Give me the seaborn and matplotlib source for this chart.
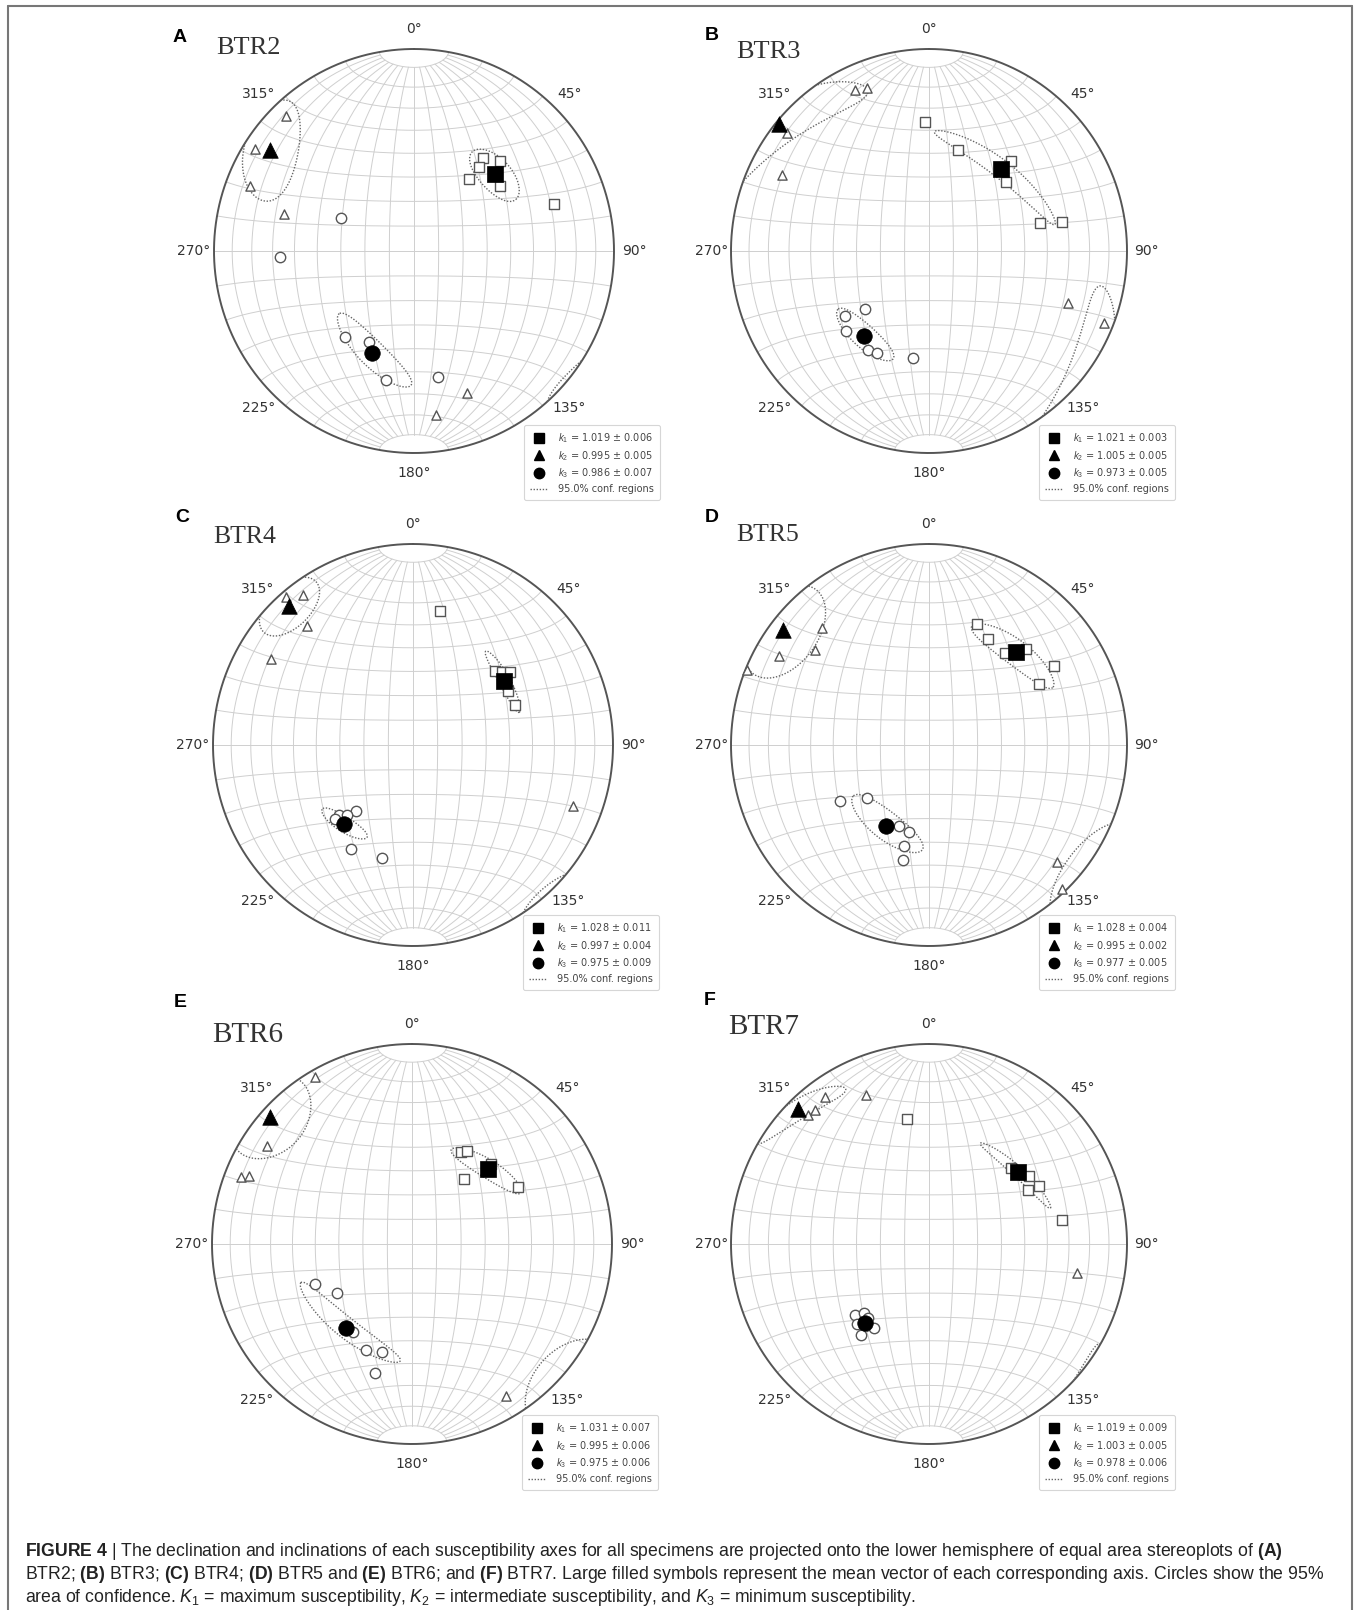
import numpy as np
import matplotlib.pyplot as plt
import seaborn as sns
from matplotlib.lines import Line2D

# declination / inclination (deg) of the specimen axes, read off the stereoplots
# A) BTR2
A_k1_dec = [36.9, 44.1, 38.1, 37.5, 53.2, 71.8]
A_k1_inc = [41.7, 37.9, 46.0, 52.8, 45.4, 27.1]
A_k2_dec = [316.1, 302.4, 291.4, 285.7, 159.2, 172.3]
A_k2_inc = [8.3, 6.6, 13.1, 33.0, 25.8, 19.3]
A_k3_dec = [294.0, 267.6, 218.8, 206.5, 192.6, 169.1]
A_k3_inc = [57.0, 33.6, 44.3, 48.4, 35.1, 36.6]
A_mean_dec = [47.0, 304.8, 202.6]
A_mean_inc = [43.7, 13.5, 44.4]
A_ell_a = [12, 19, 19.5]
A_ell_b = [7, 12, 5.5]
A_ell_beta = [0, 48, -26]
A_k = [1.019, 0.995, 0.986]
A_kerr = [0.006, 0.005, 0.007]

# B) BTR3
B_k1_dec = [358.4, 16.3, 42.9, 48.5, 76.1, 77.8]
B_k1_inc = [36.3, 46.8, 39.2, 47.2, 41.9, 31.9]
B_k2_dec = [334.9, 338.8, 309.2, 296.9, 110.3, 112.0]
B_k2_inc = [12.9, 14.5, 8.5, 17.9, 26.3, 5.1]
B_k3_dec = [228.2, 232.5, 226.6, 212.2, 207.2, 188.4]
B_k3_inc = [54.4, 45.8, 42.1, 41.7, 42.5, 45.3]
B_mean_dec = [42.1, 309.8, 218.0]
B_mean_inc = [44.6, 1.8, 45.6]
B_ell_a = [29, 32, 14]
B_ell_b = [4, 10, 5]
B_ell_beta = [6, -30, -4]
B_k = [1.021, 1.005, 0.973]
B_kerr = [0.003, 0.005, 0.005]

# C) BTR4
C_k1_dec = [11.4, 48.0, 50.8, 53.0, 60.3, 68.6]
C_k1_inc = [32.4, 44.1, 41.9, 39.4, 44.6, 44.3]
C_k2_dec = [319.2, 323.7, 318.3, 301.0, 110.9]
C_k2_inc = [3.4, 8.2, 21.6, 18.2, 15.4]
C_k3_dec = [220.8, 226.8, 226.4, 223.6, 210.7, 195.6]
C_k3_inc = [54.3, 47.8, 45.5, 50.3, 39.5, 41.1]
C_mean_dec = [55.0, 318.1, 221.2]
C_mean_inc = [43.5, 7.6, 46.5]
C_ell_a = [13, 11, 10]
C_ell_b = [2.5, 11.5, 3.3]
C_ell_beta = [-7.5, -21, 11]
C_k = [1.028, 0.997, 0.975]
C_kerr = [0.011, 0.004, 0.009]

# D) BTR5
D_k1_dec = [22.1, 29.7, 40.2, 45.7, 58.2, 61.3]
D_k1_inc = [35.4, 39.4, 40.1, 32.3, 26.4, 37.0]
D_k2_dec = [316.9, 309.4, 300.2, 292.1, 132.2, 136.8]
D_k2_inc = [21.7, 26.5, 13.3, 1.2, 14.1, 1.9]
D_k3_dec = [238.1, 229.7, 200.7, 193.2, 194.2, 192.9]
D_k3_inc = [46.1, 56.5, 54.4, 53.2, 47.1, 41.0]
D_mean_dec = [43.5, 307.7, 208.5]
D_mean_inc = [36.6, 7.4, 52.4]
D_ell_a = [18.7, 18, 17]
D_ell_b = [5.7, 16, 6]
D_ell_beta = [9, 90, -10]
D_k = [1.028, 0.995, 0.977]
D_kerr = [0.004, 0.002, 0.005]

# E) BTR6
E_k1_dec = [28.0, 30.7, 38.6, 61.9, 44.9]
E_k1_inc = [46.8, 44.8, 55.6, 39.6, 43.2]
E_k2_dec = [330.0, 304.1, 291.4, 292.8, 148.2]
E_k2_inc = [3.9, 13.3, 9.2, 12.7, 11.5]
E_k3_dec = [247.8, 237.0, 214.1, 203.3, 195.3, 196.1]
E_k3_inc = [46.4, 52.9, 46.0, 41.7, 43.3, 33.2]
E_mean_dec = [45.2, 311.9, 218.3]
E_mean_inc = [45.6, 5.2, 45.7]
E_ell_a = [15.6, 18.5, 24]
E_ell_b = [4, 14, 4.5]
E_ell_beta = [16, 90, 0]
E_k = [1.031, 0.995, 0.975]
E_kerr = [0.007, 0.006, 0.006]

# F) BTR7
F_k1_dec = [349.8, 47.4, 61.5, 62.2, 56.1, 80.0]
F_k1_inc = [36.6, 43.2, 42.5, 37.4, 39.3, 32.4]
F_k2_dec = [324.4, 336.9, 319.2, 316.5, 101.1]
F_k2_inc = [10.6, 20.2, 12.6, 12.0, 24.6]
F_k3_dec = [226.4, 223.6, 213.8, 217.0, 219.7, 222.2]
F_k3_inc = [47.0, 50.6, 48.3, 42.7, 50.4, 45.3]
F_mean_dec = [51.6, 315.6, 219.4]
F_mean_inc = [41.9, 6.4, 47.7]
F_ell_a = [18, 17, 4]
F_ell_b = [2.3, 5, 3]
F_ell_beta = [11, -25, 0]
F_k = [1.019, 1.003, 0.978]
F_kerr = [0.009, 0.005, 0.006]

site_names = ['BTR2', 'BTR3', 'BTR4', 'BTR5', 'BTR6', 'BTR7']
panel_letters = ['A', 'B', 'C', 'D', 'E', 'F']
az_ticks = [0, 45, 90, 135, 180, 225, 270, 315]

caption = [
    r"$\mathbf{FIGURE\ 4}$ | The declination and inclinations of each susceptibility axes for all specimens are projected onto the lower hemisphere of equal area stereoplots of $\mathbf{(A)}$",
    r"BTR2; $\mathbf{(B)}$ BTR3; $\mathbf{(C)}$ BTR4; $\mathbf{(D)}$ BTR5 and $\mathbf{(E)}$ BTR6; and $\mathbf{(F)}$ BTR7. Large filled symbols represent the mean vector of each corresponding axis. Circles show the 95%",
    r"area of confidence. $K_1$ = maximum susceptibility, $K_2$ = intermediate susceptibility, and $K_3$ = minimum susceptibility.",
]

sns.set_style('white')
plt.rcParams['font.family'] = ['DejaVu Sans']
plt.rcParams['mathtext.fontset'] = 'custom'
plt.rcParams['mathtext.rm'] = 'Liberation Sans'
plt.rcParams['mathtext.it'] = 'Liberation Sans:italic'
plt.rcParams['mathtext.bf'] = 'Liberation Sans:bold'

W, H = 1354, 1610
fig = plt.figure(figsize=(W / 100, H / 100), dpi=100)

# layout in pixels (centre of each net, radii), titles, letters, legend offsets
centres = [(414, 251), (929, 251), (413, 745), (929, 745), (412, 1244), (929, 1244)]
radii = [(200, 202), (198, 202), (200, 201), (198, 201), (200, 200), (198, 200)]
title_pos = [(216, 48), (736, 52), (213, 537), (736, 535), (212, 1035), (728, 1027)]
title_size = [19, 19, 18.5, 18.5, 21, 21]
letter_pos = [(180, 37), (712, 35), (182, 518), (712, 518), (180, 1002), (710, 1000)]
legend_dy = [249, 249, 245, 245, 246, 246]

grid_col = '#cfcfcf'
ell_col = '#666666'
open_edge = '#555555'


def proj(dec, inc):
    # lower hemisphere equal-area (Schmidt) projection
    d = np.radians(np.asarray(dec, float))
    i = np.radians(np.asarray(inc, float))
    x = np.cos(i) * np.sin(d)
    y = np.cos(i) * np.cos(d)
    z = np.sin(i)
    f = 1 / np.sqrt(1 + z)
    return x * f, y * f


def ellipse_segments(dec, inc, a, b, beta, n=721):
    d, i, bt = np.radians([dec, inc, beta])
    m = np.array([np.cos(i) * np.sin(d), np.cos(i) * np.cos(d), np.sin(i)])
    e1 = np.array([np.cos(d), -np.sin(d), 0.0])
    e2 = np.array([np.sin(i) * np.sin(d), np.sin(i) * np.cos(d), -np.cos(i)])
    u = np.cos(bt) * e1 + np.sin(bt) * e2
    w = -np.sin(bt) * e1 + np.cos(bt) * e2
    t = np.linspace(0, 2 * np.pi, n)
    v = (m[:, None] + np.tan(np.radians(a)) * np.cos(t) * u[:, None]
         + np.tan(np.radians(b)) * np.sin(t) * w[:, None])
    v /= np.linalg.norm(v, axis=0)
    up = v[2] < 0
    v[:, up] *= -1  # upper hemisphere -> antipode
    f = 1 / np.sqrt(1 + v[2])
    X, Y = v[0] * f, v[1] * f
    change = np.nonzero(up[1:] != up[:-1])[0] + 1
    if len(change) == 0:
        return [(X, Y)]
    k = change[0]
    X = np.roll(X[:-1], -k)
    Y = np.roll(Y[:-1], -k)
    up2 = np.roll(up[:-1], -k)
    cuts = np.nonzero(up2[1:] != up2[:-1])[0] + 1
    return list(zip(np.split(X, cuts), np.split(Y, cuts)))


def draw_net(ax):
    lat = np.radians(np.linspace(-80, 80, 161))
    for lam in range(-80, 81, 10):
        l = np.radians(lam)
        E = np.cos(lat) * np.sin(l)
        N = np.sin(lat)
        D = np.cos(lat) * np.cos(l)
        ax.plot(E / np.sqrt(1 + D), N / np.sqrt(1 + D), color=grid_col, lw=0.7, zorder=1)
    lon = np.radians(np.linspace(-90, 90, 181))
    for ph in range(-80, 81, 10):
        p = np.radians(ph)
        E = np.cos(p) * np.sin(lon)
        N = np.sin(p) * np.ones_like(lon)
        D = np.cos(p) * np.cos(lon)
        ax.plot(E / np.sqrt(1 + D), N / np.sqrt(1 + D), color=grid_col, lw=0.7, zorder=1)
    t = np.linspace(0, 2 * np.pi, 400)
    ax.plot(np.sin(t), np.cos(t), color='#555555', lw=1.4, zorder=2)


panels = [
    (A_k1_dec, A_k1_inc, A_k2_dec, A_k2_inc, A_k3_dec, A_k3_inc, A_mean_dec, A_mean_inc,
     A_ell_a, A_ell_b, A_ell_beta, A_k, A_kerr),
    (B_k1_dec, B_k1_inc, B_k2_dec, B_k2_inc, B_k3_dec, B_k3_inc, B_mean_dec, B_mean_inc,
     B_ell_a, B_ell_b, B_ell_beta, B_k, B_kerr),
    (C_k1_dec, C_k1_inc, C_k2_dec, C_k2_inc, C_k3_dec, C_k3_inc, C_mean_dec, C_mean_inc,
     C_ell_a, C_ell_b, C_ell_beta, C_k, C_kerr),
    (D_k1_dec, D_k1_inc, D_k2_dec, D_k2_inc, D_k3_dec, D_k3_inc, D_mean_dec, D_mean_inc,
     D_ell_a, D_ell_b, D_ell_beta, D_k, D_kerr),
    (E_k1_dec, E_k1_inc, E_k2_dec, E_k2_inc, E_k3_dec, E_k3_inc, E_mean_dec, E_mean_inc,
     E_ell_a, E_ell_b, E_ell_beta, E_k, E_kerr),
    (F_k1_dec, F_k1_inc, F_k2_dec, F_k2_inc, F_k3_dec, F_k3_inc, F_mean_dec, F_mean_inc,
     F_ell_a, F_ell_b, F_ell_beta, F_k, F_kerr),
]

markers = ['s', '^', 'o']
open_size = [48, 44, 56]
mean_size = [125, 125, 125]
pad = 1.06

for n, p in enumerate(panels):
    (k1d, k1i, k2d, k2i, k3d, k3i, md, mi, ea, eb, ebeta, kv, ke) = p
    cx, cy = centres[n]
    rx, ry = radii[n]
    ax = fig.add_axes([(cx - pad * rx) / W, 1 - (cy + pad * ry) / H,
                       2 * pad * rx / W, 2 * pad * ry / H])
    ax.set_xlim(-pad, pad)
    ax.set_ylim(-pad, pad)
    ax.axis('off')
    draw_net(ax)

    for az in az_ticks:
        r = 1.1
        ax.text(r * np.sin(np.radians(az)), r * np.cos(np.radians(az)), f'{az}°',
                ha='center', va='center', fontsize=10, color='#333333')

    # confidence ellipses
    for j in range(3):
        for xs, ys in ellipse_segments(md[j], mi[j], ea[j], eb[j], ebeta[j]):
            ax.plot(xs, ys, color=ell_col, lw=1.0, ls=(0, (1, 1.2)), zorder=3)

    # individual specimens (open symbols)
    for j, (dd, ii) in enumerate([(k1d, k1i), (k2d, k2i), (k3d, k3i)]):
        x, y = proj(dd, ii)
        sns.scatterplot(x=x, y=y, marker=markers[j], s=open_size[j], color='white',
                        edgecolor=open_edge, linewidth=1.0, ax=ax, zorder=4, legend=False)

    # mean vectors (filled symbols)
    for j in range(3):
        x, y = proj([md[j]], [mi[j]])
        sns.scatterplot(x=x, y=y, marker=markers[j], s=mean_size[j], color='black',
                        edgecolor='black', linewidth=0.5, ax=ax, zorder=5, legend=False)

    ax.set_xlim(-pad, pad)
    ax.set_ylim(-pad, pad)

    handles = [Line2D([], [], marker=markers[j], color='black', ls='none', markersize=7.5)
               for j in range(3)]
    handles.append(Line2D([], [], color=ell_col, ls=(0, (1, 1.2)), lw=1.0))
    labels = [rf'$k_{j + 1}$ = {kv[j]:.3f} ± {ke[j]:.3f}' for j in range(3)]
    labels.append('95.0% conf. regions')
    leg = ax.legend(handles, labels, loc='lower right',
                    bbox_to_anchor=((cx + 246) / W, 1 - (cy + legend_dy[n]) / H),
                    bbox_transform=fig.transFigure, borderaxespad=0,
                    fontsize=7, handlelength=1.8, labelspacing=0.4,
                    borderpad=0.6, handletextpad=1.1, frameon=True, fancybox=True)
    leg.get_frame().set_edgecolor('#cccccc')
    leg.get_frame().set_linewidth(0.8)
    for txt in leg.get_texts():
        txt.set_color('#444444')

    tx, ty = title_pos[n]
    fig.text(tx / W, 1 - ty / H, site_names[n], fontsize=title_size[n],
             family='Liberation Serif', color='#333333', ha='left', va='center')
    lx, ly = letter_pos[n]
    fig.text(lx / W, 1 - ly / H, panel_letters[n], fontsize=14, fontweight='bold',
             family='Liberation Sans', color='black', ha='center', va='center')

# frame around the figure
frame_col = '#777777'
fig.add_artist(Line2D([8 / W, 1352 / W], [1 - 6 / H, 1 - 6 / H], transform=fig.transFigure,
                      color=frame_col, lw=1.5))
fig.add_artist(Line2D([8 / W, 8 / W], [0, 1 - 6 / H], transform=fig.transFigure,
                      color=frame_col, lw=1.5))
fig.add_artist(Line2D([1352 / W, 1352 / W], [0, 1 - 6 / H], transform=fig.transFigure,
                      color=frame_col, lw=1.5))

cap_y = [1551, 1574, 1597]
for line, yy in zip(caption, cap_y):
    fig.text(25 / W, 1 - yy / H, line, fontsize=12.7, family='Liberation Sans',
             color='#222222', ha='left', va='center')

fig.savefig('out.png', dpi=100)
